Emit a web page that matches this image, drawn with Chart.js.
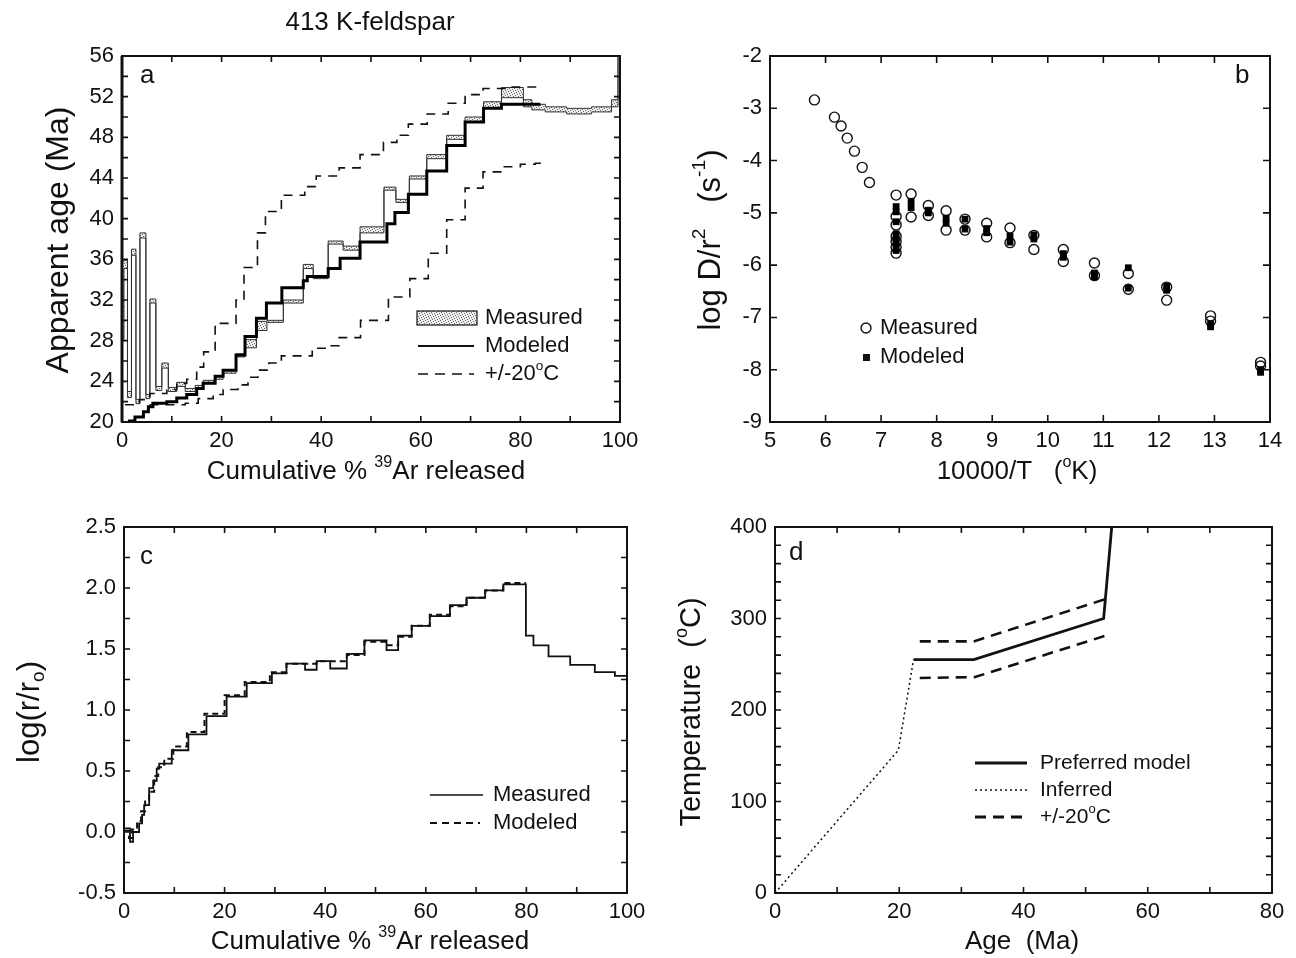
<!DOCTYPE html>
<html>
<head>
<meta charset="utf-8">
<script src="https://cdn.jsdelivr.net/npm/chart.js@4.4.0/dist/chart.umd.min.js"></script>
<style>
  body { margin: 0; background: #fff; }
  #wrap { position: relative; width: 1296px; height: 958px; }
  canvas { position: absolute; left: 0; top: 0; }
</style>
</head>
<body>
<div id="wrap">
  <canvas id="pa" width="1296" height="958"></canvas>
  <canvas id="pb" width="1296" height="958"></canvas>
  <canvas id="pc" width="1296" height="958"></canvas>
  <canvas id="pd" width="1296" height="958"></canvas>
</div>
<script>
// ---- panel a : age spectrum (step left edges, last entry = right end) ----
var mX   = [0, 0.4, 1.1, 1.9, 2.8, 3.6, 4.8, 5.6, 6.8, 8.0, 9.3, 11.0, 12.7, 14.7, 16.3, 18.7, 20.3, 22.9, 24.7, 27.0, 29.1, 32.4, 36.4, 38.4, 41.4, 44.4, 47.8, 52.6, 55.0, 57.7, 61.2, 65.2, 68.9, 72.6, 76.2, 80.6, 82.3, 85.0, 89.3, 94.3, 98.3, 99.6, 100];
var mTop = [36.0, 35.9, 23.0, 37.0, 22.2, 38.6, 22.7, 32.1, 23.5, 25.8, 23.4, 23.9, 23.3, 23.6, 24.1, 24.5, 25.1, 26.7, 28.1, 29.9, 30.0, 32.0, 35.5, 34.4, 37.8, 37.3, 39.2, 43.1, 41.9, 44.2, 46.3, 48.2, 50.0, 51.5, 52.9, 51.7, 51.25, 51.0, 50.85, 51.0, 51.7, 58, 58];
var mBot = [28.0, 35.1, 22.4, 36.4, 21.8, 38.1, 22.3, 31.7, 23.1, 25.3, 23.0, 23.5, 23.0, 23.3, 23.8, 24.2, 24.8, 26.4, 27.3, 29.0, 29.8, 31.7, 35.1, 34.1, 37.5, 36.9, 38.6, 42.8, 41.6, 43.9, 45.9, 47.8, 49.5, 50.9, 51.9, 51.0, 50.7, 50.5, 50.3, 50.5, 51.0, 56, 56];

var mdX = [1.2, 2.6, 4.3, 5.3, 6.2, 9.0, 11.0, 13.0, 15.0, 16.3, 18.7, 20.3, 22.9, 24.7, 27.0, 29.0, 32.1, 36.4, 37.2, 41.4, 43.8, 47.8, 53.2, 54.8, 57.5, 61.2, 65.2, 68.9, 72.6, 76.2, 84];
var mdY = [20.1, 20.5, 21.0, 21.5, 21.85, 22.0, 22.35, 22.7, 23.3, 23.8, 24.5, 25.1, 26.6, 28.4, 30.2, 31.7, 33.2, 33.9, 34.3, 35.1, 36.1, 37.7, 39.5, 40.6, 42.4, 44.7, 47.2, 49.5, 50.85, 51.25, 51.25];

var upX = [0.6, 3.5, 5.6, 9.0, 11.0, 13.0, 15.0, 16.4, 18.7, 22.9, 24.5, 27.2, 28.8, 32.0, 36.7, 39.0, 43.6, 47.8, 52.5, 55.2, 57.5, 61.3, 65.5, 68.9, 72.5, 78.0, 84.0];
var upY = [21.7, 22.2, 22.8, 23.2, 23.8, 24.2, 25.4, 26.9, 29.7, 32.0, 35.2, 38.6, 40.7, 42.3, 43.15, 44.2, 45.0, 46.3, 47.5, 48.2, 49.3, 50.3, 51.35, 52.2, 52.8, 52.95, 52.95];

var loX = [5.5, 12.7, 15.3, 18.3, 20.3, 23.3, 25.3, 27.3, 29.5, 32.0, 38.2, 41.0, 43.6, 47.9, 53.5, 57.8, 61.5, 65.2, 68.9, 72.5, 76.5, 80.0, 83.0, 85.0];
var loY = [21.7, 21.85, 22.3, 22.7, 23.2, 23.65, 24.4, 25.1, 25.8, 26.5, 27.25, 27.5, 28.3, 30.0, 32.3, 34.1, 36.6, 39.9, 43.0, 44.6, 45.1, 45.35, 45.45, 45.45];

// ---- panel b : Arrhenius plot ----
var bMeasT = [5.80, 6.16, 6.28, 6.39, 6.52, 6.66, 6.79, 7.27, 7.27, 7.27, 7.27, 7.27, 7.27, 7.27, 7.54, 7.54, 7.85, 7.85, 8.17, 8.17, 8.51, 8.51, 8.90, 8.90, 9.32, 9.32, 9.75, 9.75, 10.28, 10.28, 10.84, 10.84, 11.45, 11.45, 12.14, 12.14, 12.93, 12.93, 13.83, 13.83];
var bMeasD = [-2.84, -3.17, -3.34, -3.57, -3.82, -4.13, -4.42, -4.66, -5.07, -5.23, -5.45, -5.55, -5.66, -5.77, -4.64, -5.08, -4.86, -5.05, -4.96, -5.33, -5.12, -5.33, -5.20, -5.46, -5.29, -5.57, -5.43, -5.70, -5.70, -5.93, -5.96, -6.20, -6.16, -6.46, -6.42, -6.67, -6.97, -7.07, -7.86, -7.93];
var bModT = [7.27, 7.27, 7.27, 7.27, 7.27, 7.27, 7.27, 7.54, 7.54, 7.85, 7.85, 8.17, 8.17, 8.51, 8.51, 8.90, 8.90, 9.32, 9.32, 9.75, 9.75, 10.28, 10.28, 10.84, 10.84, 11.45, 11.45, 12.14, 12.14, 12.93, 12.93, 13.83, 13.83];
var bModD = [-4.88, -4.98, -5.17, -5.40, -5.50, -5.60, -5.72, -4.78, -4.90, -4.95, -5.00, -5.10, -5.20, -5.12, -5.31, -5.30, -5.38, -5.45, -5.56, -5.42, -5.50, -5.78, -5.85, -6.15, -6.22, -6.05, -6.44, -6.40, -6.48, -7.12, -7.18, -8.00, -8.05];

// ---- panel c : log(r/ro) spectrum ----
var cX  = [0, 1.2, 1.8, 3.0, 3.6, 4.0, 5.0, 5.8, 6.5, 7.0, 9.5, 12.8, 16.4, 20.4, 24.4, 29.4, 32.3, 36.0, 38.3, 41.0, 44.3, 47.8, 52.2, 54.5, 57.2, 60.8, 64.8, 68.1, 71.8, 75.4, 79.9, 81.4, 84.4, 88.7, 93.6, 97.6, 100];
var cY  = [0.03, -0.08, 0.0, 0.07, 0.14, 0.22, 0.36, 0.42, 0.52, 0.56, 0.67, 0.80, 0.95, 1.11, 1.22, 1.30, 1.38, 1.33, 1.40, 1.34, 1.46, 1.57, 1.49, 1.61, 1.69, 1.77, 1.86, 1.92, 1.98, 2.03, 1.61, 1.53, 1.44, 1.37, 1.31, 1.28, 1.28];
var mcX = [0, 1.0, 1.6, 2.6, 3.4, 4.2, 5.0, 6.0, 6.8, 8.0, 9.8, 12.5, 16.0, 20.0, 24.0, 29.0, 32.3, 38.3, 44.3, 47.8, 52.2, 54.5, 57.2, 60.8, 64.8, 68.1, 71.8, 75.4, 79.9];
var mcY = [0.01, -0.05, 0.02, 0.09, 0.17, 0.25, 0.33, 0.46, 0.53, 0.60, 0.70, 0.82, 0.97, 1.12, 1.23, 1.31, 1.38, 1.40, 1.45, 1.56, 1.53, 1.60, 1.69, 1.78, 1.85, 1.92, 1.98, 2.04, 2.04];

// ---- panel d : thermal history ----
var dPrefX = [22.3, 32.0, 52.9, 54.2];
var dPrefY = [255, 255, 300, 400];
var dInfX  = [0, 19.85, 22.3];
var dInfY  = [0, 156, 255];
var dUpX   = [23.3, 32.0, 53.1];
var dUpY   = [275, 275, 321];
var dLoX   = [23.3, 32.2, 53.1];
var dLoY   = [235, 236, 281];

var FONT = "'Liberation Sans', Arial, Helvetica, sans-serif";
var INK = '#111';

function pts(xs, ys) {
  return xs.map(function (x, i) { return { x: x, y: ys[i] }; });
}
function range(a, b, s) {
  var out = [];
  for (var v = a; v <= b + 1e-9; v += s) out.push(Math.round(v * 1000) / 1000);
  return out;
}

// text with superscript (1) / subscript (-1) pieces
function richText(ctx, parts, x, y, size, align) {
  var w = 0;
  parts.forEach(function (p) {
    ctx.font = (p[1] ? size * 0.62 : size) + 'px ' + FONT;
    w += ctx.measureText(p[0]).width;
  });
  var cx = align === 'center' ? x - w / 2 : (align === 'right' ? x - w : x);
  ctx.textBaseline = 'middle';
  ctx.textAlign = 'left';
  parts.forEach(function (p) {
    var s = p[1] ? size * 0.62 : size;
    ctx.font = s + 'px ' + FONT;
    var dy = p[1] === 1 ? -size * 0.36 : (p[1] === -1 ? size * 0.28 : 0);
    ctx.fillText(p[0], cx, y + dy);
    cx += ctx.measureText(p[0]).width;
  });
}
function vText(ctx, parts, x, y, size) {
  ctx.save();
  ctx.translate(x, y);
  ctx.rotate(-Math.PI / 2);
  richText(ctx, parts, 0, 0, size, 'center');
  ctx.restore();
}
function seg(ctx, x1, y1, x2, y2, w, dash) {
  ctx.save();
  ctx.lineWidth = w;
  ctx.setLineDash(dash || []);
  ctx.beginPath();
  ctx.moveTo(x1, y1);
  ctx.lineTo(x2, y2);
  ctx.stroke();
  ctx.restore();
}

// frame, inward ticks on all four sides, and the extra drawing of a panel
function makeDeco(cfg) {
  return {
    id: 'deco',
    afterDraw: function (chart) {
      var ctx = chart.ctx, a = chart.chartArea;
      var sx = chart.scales.x, sy = chart.scales.y;
      ctx.save();
      ctx.strokeStyle = INK;
      ctx.fillStyle = INK;
      ctx.lineWidth = 1.6;
      ctx.beginPath();
      cfg.xt.forEach(function (v) {
        var p = sx.getPixelForValue(v);
        ctx.moveTo(p, a.bottom); ctx.lineTo(p, a.bottom - cfg.tl);
        ctx.moveTo(p, a.top); ctx.lineTo(p, a.top + cfg.tl);
      });
      cfg.yt.forEach(function (v) {
        var p = sy.getPixelForValue(v);
        ctx.moveTo(a.left, p); ctx.lineTo(a.left + cfg.tl, p);
        ctx.moveTo(a.right, p); ctx.lineTo(a.right - cfg.tl, p);
      });
      ctx.stroke();
      ctx.lineWidth = 2;
      ctx.strokeRect(a.left, a.top, a.right - a.left, a.bottom - a.top);
      if (cfg.leftW) seg(ctx, a.left, a.top, a.left, a.bottom, cfg.leftW);
      ctx.font = '26px ' + FONT;
      ctx.textAlign = 'left';
      ctx.textBaseline = 'middle';
      ctx.fillText(cfg.letter[0], cfg.letter[1], cfg.letter[2]);
      cfg.extra(ctx, chart);
      ctx.restore();
    }
  };
}

function scales(xmin, xmax, xstep, ymin, ymax, ystep, yfmt) {
  var tf = { family: FONT, size: 22 };
  var y = {
    type: 'linear', min: ymin, max: ymax,
    ticks: { stepSize: ystep, font: tf, color: INK, padding: 8, autoSkip: false },
    grid: { display: false, drawTicks: false }, border: { display: false },
    afterFit: function (s) { s.width = 60; }
  };
  if (yfmt) y.ticks.callback = yfmt;
  return {
    x: {
      type: 'linear', min: xmin, max: xmax,
      ticks: { stepSize: xstep, font: tf, color: INK, padding: 6, maxRotation: 0, autoSkip: false },
      grid: { display: false, drawTicks: false }, border: { display: false },
      afterFit: function (s) { s.height = 40; }
    },
    y: y
  };
}

function options(pad, sc) {
  return {
    responsive: false, animation: false, devicePixelRatio: 1, events: [],
    layout: { padding: pad },
    plugins: { legend: { display: false }, tooltip: { enabled: false } },
    elements: { point: { radius: 0 }, line: { tension: 0, borderColor: INK, fill: false } },
    scales: sc
  };
}

// stippled fill for the measured spectrum
function stipple(ctx) {
  var c = document.createElement('canvas');
  c.width = 5; c.height = 5;
  var g = c.getContext('2d');
  g.fillStyle = '#eeeeee'; g.fillRect(0, 0, 5, 5);
  g.fillStyle = '#666';
  [[0, 0], [3, 1], [1, 2], [4, 3], [2, 4]].forEach(function (d) { g.fillRect(d[0], d[1], 1, 1); });
  return ctx.createPattern(c, 'repeat');
}

var sup39 = [['Cumulative % ', 0], ['39', 1], ['Ar released', 0]];

// ---------------- panel a ----------------
var ctxA = document.getElementById('pa').getContext('2d');
var stip = stipple(ctxA);
new Chart(ctxA, {
  type: 'line',
  data: {
    datasets: [
      { data: pts(mX, mTop), borderWidth: 1, borderColor: '#333', stepped: true, order: 3 },
      { data: pts(mX, mBot), borderWidth: 1, borderColor: '#333', stepped: true, order: 3, fill: '-1', backgroundColor: stip },
      { data: pts(mdX, mdY), borderWidth: 3, borderColor: '#000', stepped: true, order: 1 },
      { data: pts(upX, upY), borderWidth: 1.6, borderDash: [9, 7], stepped: true, order: 2 },
      { data: pts(loX, loY), borderWidth: 1.6, borderDash: [9, 7], stepped: true, order: 2 }
    ]
  },
  options: options({ left: 62, top: 56, right: 676, bottom: 496 }, scales(0, 100, 20, 20, 56, 4)),
  plugins: [makeDeco({
    xt: range(0, 100, 10), yt: range(20, 56, 2), tl: 6, leftW: 3, letter: ['a', 140, 76],
    extra: function (ctx) {
      ctx.font = '26px ' + FONT;
      ctx.textAlign = 'center';
      ctx.fillText('413 K-feldspar', 370, 23);
      vText(ctx, [['Apparent age (Ma)', 0]], 59, 240, 32);
      richText(ctx, sup39, 366, 472, 26, 'center');
      ctx.fillStyle = stip;
      ctx.fillRect(417, 311, 60, 14);
      ctx.fillStyle = INK;
      ctx.lineWidth = 1.2;
      ctx.strokeRect(417, 311, 60, 14);
      seg(ctx, 418, 346, 474, 346, 2);
      seg(ctx, 418, 374, 474, 374, 1.5, [10, 7]);
      richText(ctx, [['Measured', 0]], 485, 318, 22, 'left');
      richText(ctx, [['Modeled', 0]], 485, 346, 22, 'left');
      richText(ctx, [['+/-20', 0], ['o', 1], ['C', 0]], 485, 374, 22, 'left');
    }
  })]
});

// ---------------- panel b ----------------
new Chart(document.getElementById('pb'), {
  type: 'scatter',
  data: {
    datasets: [
      { data: pts(bModT, bModD), pointStyle: 'rect', pointRadius: 4.8, backgroundColor: '#000', borderColor: '#000', borderWidth: 0, order: 0 },
      { data: pts(bMeasT, bMeasD), pointStyle: 'circle', pointRadius: 5, backgroundColor: 'rgba(0,0,0,0)', borderColor: INK, borderWidth: 1.4, order: 1 }
    ]
  },
  options: options({ left: 710, top: 56, right: 26, bottom: 496 }, scales(5, 14, 1, -9, -2, 1)),
  plugins: [makeDeco({
    xt: range(5, 14, 1), yt: range(-9, -2, 1), tl: 7, letter: ['b', 1235, 76],
    extra: function (ctx) {
      vText(ctx, [['log D/r', 0], ['2', 1], ['   (s', 0], ['-1', 1], [')', 0]], 711, 240, 31);
      richText(ctx, [['10000/T   (', 0], ['o', 1], ['K)', 0]], 1017, 472, 26, 'center');
      ctx.lineWidth = 1.4;
      ctx.beginPath();
      ctx.arc(866, 328, 5, 0, Math.PI * 2);
      ctx.stroke();
      ctx.fillRect(863, 354, 7, 7);
      richText(ctx, [['Measured', 0]], 880, 328, 22, 'left');
      richText(ctx, [['Modeled', 0]], 880, 357, 22, 'left');
    }
  })]
});

// ---------------- panel c ----------------
new Chart(document.getElementById('pc'), {
  type: 'line',
  data: {
    datasets: [
      { data: pts(cX, cY), borderWidth: 1.8, stepped: true, order: 1 },
      { data: pts(mcX, mcY), borderWidth: 2, borderDash: [6, 4], stepped: true, order: 0 }
    ]
  },
  options: options({ left: 64, top: 527, right: 669, bottom: 25 },
    scales(0, 100, 20, -0.5, 2.5, 0.5, function (v) { return v.toFixed(1); })),
  plugins: [makeDeco({
    xt: range(0, 100, 10), yt: range(-0.5, 2.5, 0.25), tl: 6, letter: ['c', 140, 557],
    extra: function (ctx) {
      vText(ctx, [['log(r/r', 0], ['o', -1], [')', 0]], 30, 712, 31);
      richText(ctx, sup39, 370, 942, 26, 'center');
      seg(ctx, 430, 795, 483, 795, 1.6);
      seg(ctx, 430, 823, 480, 823, 2, [7, 5]);
      richText(ctx, [['Measured', 0]], 493, 795, 22, 'left');
      richText(ctx, [['Modeled', 0]], 493, 823, 22, 'left');
    }
  })]
});

// ---------------- panel d ----------------
new Chart(document.getElementById('pd'), {
  type: 'line',
  data: {
    datasets: [
      { data: pts(dPrefX, dPrefY), borderWidth: 2.8 },
      { data: pts(dInfX, dInfY), borderWidth: 1.5, borderDash: [2, 3] },
      { data: pts(dUpX, dUpY), borderWidth: 2.6, borderDash: [11, 7] },
      { data: pts(dLoX, dLoY), borderWidth: 2.6, borderDash: [11, 7] }
    ]
  },
  options: options({ left: 715, top: 527, right: 24, bottom: 25 }, scales(0, 80, 20, 0, 400, 100)),
  plugins: [makeDeco({
    xt: range(0, 80, 10), yt: range(0, 400, 20), tl: 6, letter: ['d', 789, 553],
    extra: function (ctx) {
      vText(ctx, [['Temperature  (', 0], ['o', 1], ['C)', 0]], 692, 712, 29);
      richText(ctx, [['Age  (Ma)', 0]], 1022, 942, 26, 'center');
      seg(ctx, 975, 763, 1027, 763, 3);
      seg(ctx, 975, 790, 1027, 790, 1.5, [2, 3]);
      seg(ctx, 975, 817, 1027, 817, 3, [11, 7]);
      richText(ctx, [['Preferred model', 0]], 1040, 763, 21, 'left');
      richText(ctx, [['Inferred', 0]], 1040, 790, 21, 'left');
      richText(ctx, [['+/-20', 0], ['o', 1], ['C', 0]], 1040, 817, 21, 'left');
    }
  })]
});
</script>
</body>
</html>
